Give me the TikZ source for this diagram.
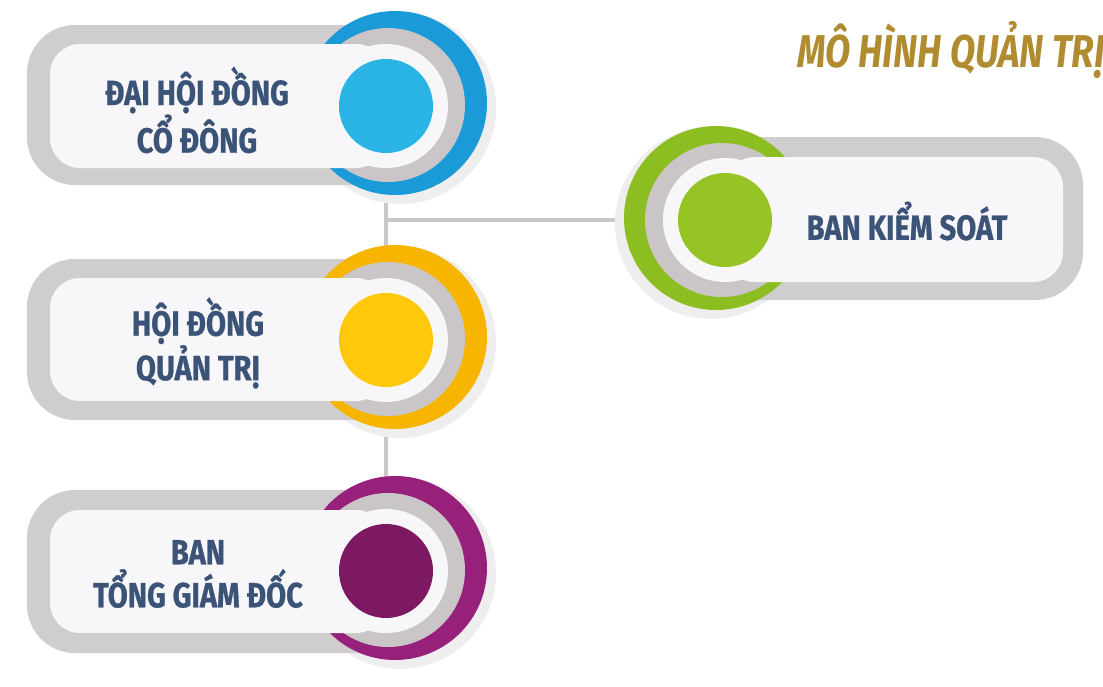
\documentclass[tikz,border=0pt]{standalone}
\usepackage{fontspec}
\newfontfamily\labelfont{Fira Sans}[FakeStretch=0.83, FakeBold=0.8]
\newfontfamily\titlefont{Fira Sans}[FakeStretch=0.8]
\usetikzlibrary{positioning,backgrounds}

\definecolor{bluering}{HTML}{1A9AD6}
\definecolor{bluedot}{HTML}{2AB4E6}
\definecolor{yellowring}{HTML}{F7B500}
\definecolor{yellowdot}{HTML}{FFC80A}
\definecolor{purplering}{HTML}{97207B}
\definecolor{purpledot}{HTML}{7D1863}
\definecolor{greenring}{HTML}{8CBD21}
\definecolor{greendot}{HTML}{96C424}
\definecolor{boxgrey}{HTML}{D0CDCE}
\definecolor{boxwhite}{HTML}{F7F6F8}
\definecolor{discgrey}{HTML}{CAC6C7}
\definecolor{halogrey}{HTML}{EFEEEF}
\definecolor{linegrey}{HTML}{C8C8C8}
\definecolor{labelblue}{HTML}{3C5378}
\definecolor{titlegold}{HTML}{B08B2F}

\begin{document}
\begin{tikzpicture}[x=1pt, y=-1pt,
    outerbox/.style={fill=boxgrey, rounded corners=48pt},
    innerbox/.style={fill=boxwhite, rounded corners=30pt},
    halo/.style={fill=halogrey},
    link/.style={draw=linegrey, line width=4pt},
    dot/.style={circle, minimum size=94pt, inner sep=0pt},
    label/.style={text=labelblue, align=center,
      font=\labelfont\bfseries\fontsize{35}{43}\selectfont}]
  \clip (0,0) rectangle (1103,686);

  % Title
  \node[anchor=base west, text=titlegold, inner sep=0pt,
    font=\titlefont\bfseries\itshape\fontsize{46}{50}\selectfont]
    (title) at (797,67) {MÔ HÌNH QUẢN TRỊ};

  % First unit: shareholders
  \fill[halo] (400,108) circle (96pt);
  \fill[outerbox] (27,25) rectangle (420,185);
  \fill[bluering] (395,103) circle (92pt);
  \fill[discgrey] (388,105) circle (77pt);
  \fill[innerbox] (50,44) rectangle (386,168);
  \fill[boxwhite] (386,106) circle (62pt);
  \node[dot, fill=bluedot] (dhdcd) at (386,106) {};
  \node[label] (dhdcd text) at (197,110) {ĐẠI HỘI ĐỒNG\\CỔ ĐÔNG};

  % Second unit: board
  \begin{scope}[shift={(0,234)}]
    \fill[halo] (400,108) circle (96pt);
    \fill[outerbox] (27,25) rectangle (420,186);
    \fill[yellowring] (395,103) circle (92pt);
    \fill[discgrey] (388,105) circle (77pt);
    \fill[innerbox] (50,44) rectangle (386,167);
    \fill[boxwhite] (386,106) circle (62pt);
    \node[dot, fill=yellowdot] (hdqt) at (386,106) {};
    \node[label] (hdqt text) at (198,109) {HỘI ĐỒNG\\QUẢN TRỊ};
  \end{scope}

  % Third unit: management
  \begin{scope}[shift={(0,465)}]
    \fill[halo] (400,108) circle (96pt);
    \fill[outerbox] (27,25) rectangle (420,188);
    \fill[purplering] (395,103) circle (92pt);
    \fill[discgrey] (388,105) circle (77pt);
    \fill[innerbox] (50,45) rectangle (386,168);
    \fill[boxwhite] (386,106) circle (62pt);
    \node[dot, fill=purpledot] (btgd) at (386,106) {};
    \node[label] (btgd text) at (198,109) {BAN\\TỔNG GIÁM ĐỐC};
  \end{scope}

  % Supervisory unit, mirrored
  \fill[halo] (711,223) circle (96pt);
  \fill[outerbox] (700,137) rectangle (1083,300);
  \fill[greenring] (716,218) circle (92pt);
  \fill[discgrey] (722,220) circle (77pt);
  \fill[innerbox] (725,157) rectangle (1063,282);
  \fill[boxwhite] (725,220) circle (62pt);
  \node[dot, fill=greendot] (bks) at (725,220) {};
  \node[label] (bks text) at (907,221) {BAN KIỂM SOÁT};

  % Links, behind the units
  \begin{pgfonlayer}{background}
    \draw[link] (dhdcd.center) -- (btgd.center);
    \draw[link] (dhdcd.center |- bks.center) -- (bks.center);
  \end{pgfonlayer}
\end{tikzpicture}
\end{document}
